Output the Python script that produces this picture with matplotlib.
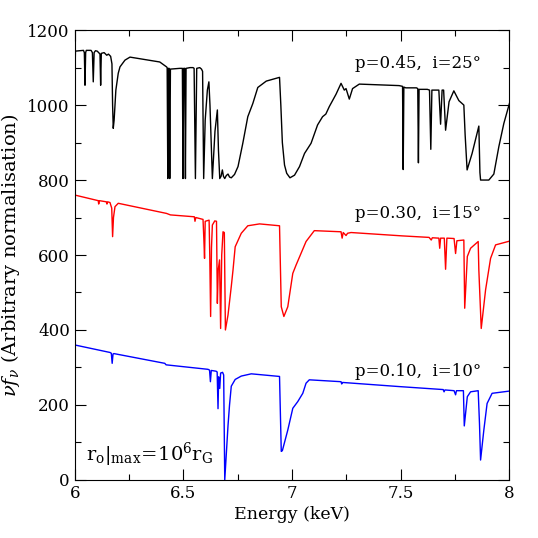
import matplotlib
matplotlib.use("Agg")
import matplotlib.pyplot as plt
from matplotlib.ticker import MultipleLocator

plt.rcParams['font.family'] = ['DejaVu Serif']
plt.rcParams['mathtext.fontset'] = 'dejavuserif'

# p=0.45, i=25 deg (black)
e_45 = [6.000, 6.003, 6.040, 6.044, 6.047, 6.050, 6.053, 6.075, 6.081, 6.085, 6.089, 6.095,
        6.103, 6.110, 6.116, 6.119, 6.122, 6.135, 6.147, 6.155, 6.165, 6.171, 6.174, 6.177,
        6.181, 6.189, 6.200, 6.208, 6.231, 6.254, 6.391, 6.422, 6.425, 6.428, 6.431, 6.434,
        6.437, 6.440, 6.483, 6.495, 6.498, 6.501, 6.506, 6.509, 6.512, 6.530, 6.544, 6.549,
        6.555, 6.561, 6.575, 6.583, 6.588, 6.593, 6.600, 6.610, 6.617, 6.622, 6.633, 6.645,
        6.656, 6.661, 6.667, 6.673, 6.679, 6.684, 6.690, 6.697, 6.705, 6.712, 6.720, 6.735,
        6.751, 6.773, 6.796, 6.819, 6.842, 6.881, 6.942, 6.948, 6.955, 6.965, 6.975, 6.990,
        7.011, 7.034, 7.057, 7.087, 7.117, 7.140, 7.155, 7.171, 7.202, 7.225, 7.240, 7.248,
        7.263, 7.278, 7.309, 7.492, 7.508, 7.511, 7.514, 7.523, 7.572, 7.578, 7.581, 7.584,
        7.594, 7.622, 7.632, 7.638, 7.643, 7.648, 7.675, 7.683, 7.690, 7.697, 7.706, 7.722,
        7.744, 7.767, 7.790, 7.796, 7.805, 7.828, 7.859, 7.864, 7.867, 7.905, 7.928, 7.951,
        7.974, 8.000]
f_45 = [1060, 1144, 1146, 1140, 1053, 1140, 1146, 1146, 1140, 1062, 1140, 1145,
        1144, 1140, 1136, 1053, 1138, 1140, 1133, 1136, 1130, 1110, 1000, 938,
        960, 1040, 1085, 1102, 1120, 1128, 1115, 1102, 1100, 804, 1098, 1098,
        804, 1096, 1098, 1098, 804, 1098, 1098, 804, 1098, 1100, 1100, 1098,
        804, 1098, 1100, 1096, 1090, 804, 960, 1040, 1062, 1000, 804, 930,
        987, 880, 804, 810, 827, 810, 804, 812, 816, 808, 806, 815,
        836, 898, 969, 1004, 1047, 1064, 1074, 1000, 900, 840, 818, 806,
        813, 836, 871, 898, 947, 969, 976, 996, 1029, 1058, 1040, 1044,
        1016, 1044, 1056, 1052, 1050, 828, 1048, 1046, 1046, 1044, 846, 1042,
        1042, 1042, 1040, 882, 1040, 1040, 1040, 949, 1040, 1040, 933, 1009,
        1038, 1012, 1000, 920, 827, 871, 944, 820, 800, 800, 816, 889,
        951, 1005]

# p=0.30, i=15 deg (red)
e_30 = [6.000, 6.108, 6.110, 6.113, 6.145, 6.148, 6.151, 6.162, 6.170, 6.174, 6.178, 6.185,
        6.200, 6.422, 6.440, 6.550, 6.553, 6.557, 6.590, 6.594, 6.597, 6.600, 6.618, 6.621,
        6.625, 6.629, 6.633, 6.644, 6.652, 6.656, 6.660, 6.666, 6.671, 6.676, 6.682, 6.688,
        6.693, 6.705, 6.720, 6.728, 6.738, 6.766, 6.796, 6.850, 6.942, 6.950, 6.962, 6.980,
        7.003, 7.018, 7.064, 7.102, 7.225, 7.230, 7.235, 7.248, 7.255, 7.271, 7.507, 7.630,
        7.640, 7.645, 7.675, 7.679, 7.683, 7.700, 7.706, 7.712, 7.745, 7.752, 7.758, 7.790,
        7.794, 7.806, 7.821, 7.856, 7.859, 7.870, 7.890, 7.913, 7.936, 8.000]
f_30 = [760, 745, 736, 745, 742, 736, 742, 740, 725, 649, 700, 729,
        738, 711, 707, 702, 690, 700, 695, 640, 591, 690, 693, 600,
        436, 620, 680, 691, 690, 471, 560, 587, 404, 600, 662, 660,
        400, 440, 516, 560, 622, 658, 678, 683, 678, 462, 436, 462,
        551, 573, 636, 665, 662, 645, 660, 652, 658, 660, 651, 647,
        640, 646, 645, 618, 645, 645, 562, 645, 644, 604, 638, 640,
        458, 596, 618, 636, 560, 404, 507, 591, 627, 637]

# p=0.10, i=10 deg (blue)
e_10 = [6.000, 6.162, 6.168, 6.172, 6.176, 6.180, 6.414, 6.420, 6.613, 6.620, 6.624, 6.628,
        6.650, 6.655, 6.659, 6.662, 6.667, 6.671, 6.680, 6.685, 6.690, 6.705, 6.712, 6.720,
        6.738, 6.766, 6.812, 6.942, 6.950, 6.955, 6.980, 7.003, 7.026, 7.049, 7.064, 7.079,
        7.225, 7.228, 7.232, 7.492, 7.695, 7.699, 7.703, 7.745, 7.752, 7.756, 7.788, 7.792,
        7.806, 7.821, 7.856, 7.862, 7.867, 7.882, 7.897, 7.920, 8.000]
f_10 = [360, 340, 338, 311, 336, 337, 311, 307, 295, 293, 262, 292,
        290, 288, 190, 275, 244, 285, 287, 280, 0, 145, 200, 250,
        268, 277, 283, 276, 76, 78, 133, 191, 209, 231, 258, 267,
        262, 256, 260, 249, 241, 235, 240, 238, 227, 238, 238, 144,
        222, 235, 238, 150, 53, 133, 204, 231, 237]

labels = ["p=0.45,  i=25°", "p=0.30,  i=15°", "p=0.10,  i=10°"]
label_y = [1112, 712, 289]

fig = plt.figure(figsize=(5.38, 5.38), dpi=100)
ax = fig.add_axes([0.139, 0.108, 0.808, 0.836])

ax.plot(e_45, f_45, color='black', lw=1.0)
ax.plot(e_30, f_30, color='red', lw=1.0)
ax.plot(e_10, f_10, color='blue', lw=1.0)

for lab, yy in zip(labels, label_y):
    ax.text(7.87, yy, lab, ha='right', va='center', fontsize=12)

ax.text(6.05, 67, r"$\mathrm{r_o|_{max}\!=\!10^6 r_G}$", ha='left', va='center', fontsize=14)

ax.set_xlim(6, 8)
ax.set_ylim(0, 1200)
ax.xaxis.set_major_locator(MultipleLocator(0.5))
ax.xaxis.set_minor_locator(MultipleLocator(0.25))
ax.yaxis.set_major_locator(MultipleLocator(200))
ax.yaxis.set_minor_locator(MultipleLocator(100))
ax.set_xticks([6, 6.5, 7, 7.5, 8])
ax.set_xticklabels(["6", "6.5", "7", "7.5", "8"])
ax.tick_params(which='both', direction='in', top=True, right=True, labelsize=12, width=0.8)
ax.tick_params(which='major', length=8)
ax.tick_params(which='minor', length=4)
for s in ax.spines.values():
    s.set_linewidth(0.8)

ax.set_xlabel("Energy (keV)", fontsize=12.5, labelpad=3)
ax.set_ylabel(r"$\nu f_\nu$ (Arbitrary normalisation)", fontsize=14, labelpad=4)

fig.savefig("out.png", dpi=100)
